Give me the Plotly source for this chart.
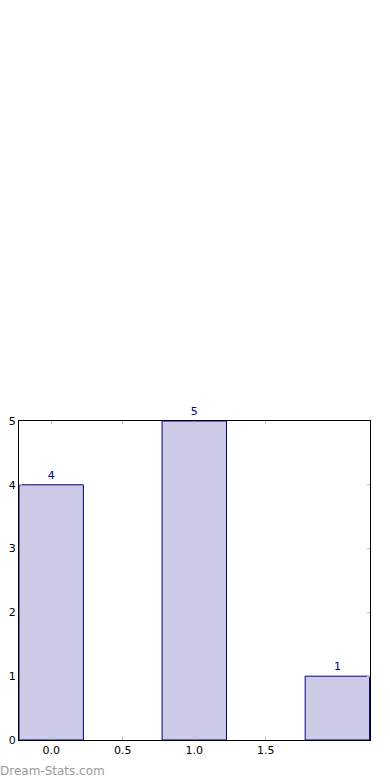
import plotly.graph_objects as go

categories = [0, 1, 2]
values = [4, 5, 1]
x_tickvals = [0.0, 0.5, 1.0, 1.5]
x_ticktext = ["0.0", "0.5", "1.0", "1.5"]
y_tickvals = [0, 1, 2, 3, 4, 5]

fig = go.Figure()
fig.add_trace(go.Bar(
    x=categories, y=values, width=0.45,
    marker=dict(color="#cccce6", line=dict(color="#000080", width=1)),
    text=[str(v) for v in values], textposition="outside",
    textfont=dict(family="DejaVu Sans", size=11, color="#000080"),
    cliponaxis=False,
))

axis_common = dict(
    showline=True, linecolor="black", linewidth=1, mirror="ticks",
    ticks="inside", ticklen=3, tickcolor="#bbbbbb", tickwidth=1,
    showgrid=False, zeroline=False, automargin=False,
    tickfont=dict(family="DejaVu Sans", size=11, color="black"),
)

fig.update_layout(
    width=390, height=780,
    margin=dict(l=19, r=20, t=421, b=40),
    paper_bgcolor="white", plot_bgcolor="white",
    showlegend=False,
    xaxis=dict(range=[-0.225, 2.228], tickvals=x_tickvals, ticktext=x_ticktext, **axis_common),
    yaxis=dict(range=[0, 5], tickvals=y_tickvals, **axis_common),
    annotations=[dict(
        text="Dream-Stats.com", xref="paper", yref="paper",
        x=0, y=0, xanchor="left", yanchor="top", yshift=-22, xshift=-21,
        showarrow=False, font=dict(family="DejaVu Sans", size=12, color="#999999"),
    )],
)

fig.write_html("out.html")
